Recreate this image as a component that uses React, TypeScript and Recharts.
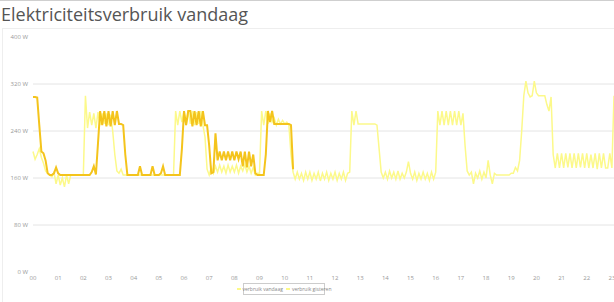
import { LineChart, Line, XAxis, YAxis, CartesianGrid } from "recharts";

// 5-minute readings, one row of 12 per hour
const vandaag = [
  298, 298, 297, 250, 205, 202, 190, 168, 165, 165, 168, 178, // 00
  168, 165, 165, 165, 165, 165, 165, 165, 165, 165, 165, 165, // 01
  165, 165, 165, 165, 170, 180, 166, 220, 274, 250, 274, 248, // 02
  274, 248, 274, 250, 274, 252, 252, 250, 200, 165, 165, 165, // 03
  165, 165, 165, 180, 165, 165, 165, 165, 165, 180, 165, 165, // 04
  165, 168, 180, 165, 165, 165, 165, 165, 165, 165, 165, 210, // 05
  274, 250, 274, 274, 248, 274, 250, 274, 248, 274, 250, 250, // 06
  215, 168, 170, 236, 190, 205, 190, 205, 190, 205, 190, 205, // 07
  190, 205, 192, 205, 180, 205, 178, 205, 180, 200, 168, 165, // 08
  165, 165, 165, 200, 274, 255, 274, 252, 252, 252, 252, 252, // 09
  252, 252, 252, 250, 175, // 10
];

const gisteren = [
  205, 192, 200, 210, 195, 185, 172, 168, 165, 162, 170, 150, // 00
  165, 148, 160, 145, 165, 150, 165, 165, 165, 165, 165, 165, // 01
  165, 300, 245, 272, 250, 270, 245, 272, 250, 270, 252, 270, // 02
  250, 268, 240, 200, 172, 168, 175, 165, 165, 165, 165, 165, // 03
  165, 165, 165, 165, 165, 165, 165, 165, 165, 165, 165, 165, // 04
  165, 165, 165, 165, 165, 165, 165, 165, 274, 250, 274, 255, // 05
  274, 250, 274, 252, 274, 250, 272, 252, 274, 250, 230, 175, // 06
  165, 178, 168, 180, 170, 182, 170, 180, 168, 182, 170, 180, // 07
  170, 182, 168, 180, 172, 183, 170, 180, 168, 178, 165, 168, // 08
  168, 274, 250, 274, 252, 270, 255, 262, 250, 260, 252, 258, // 09
  252, 255, 250, 200, 170, 158, 170, 158, 168, 156, 170, 158, // 10
  170, 156, 168, 158, 170, 155, 168, 158, 170, 156, 168, 158, // 11
  170, 156, 168, 158, 170, 156, 168, 170, 274, 250, 274, 252, // 12
  252, 252, 252, 252, 252, 252, 252, 252, 250, 210, 170, 160, // 13
  170, 158, 172, 160, 170, 158, 172, 158, 168, 160, 170, 188, // 14
  168, 158, 170, 156, 168, 158, 170, 158, 168, 156, 170, 158, // 15
  170, 274, 250, 274, 250, 274, 250, 274, 250, 274, 250, 274, // 16
  250, 270, 215, 172, 165, 170, 150, 168, 160, 172, 158, 170, // 17
  160, 190, 165, 150, 168, 165, 165, 165, 165, 165, 165, 165, // 18
  168, 168, 178, 172, 190, 240, 300, 325, 305, 298, 300, 325, // 19
  305, 300, 300, 300, 300, 285, 274, 298, 200, 177, 202, 177, // 20
  202, 177, 202, 178, 202, 177, 202, 177, 202, 178, 202, 177, // 21
  202, 177, 200, 177, 202, 175, 202, 177, 202, 177, 177, 202, // 22
  177, 300, // 23
];

const uurTicks = Array.from({ length: 24 }, (_, h) => h * 12);
const wattTicks = [0, 80, 160, 240, 320, 400];

const data = gisteren.map((g, i) => ({
  t: i,
  gisteren: g,
  vandaag: i < vandaag.length ? vandaag[i] : undefined,
}));

const DONKER = "#f4c41c";
const LICHT = "#fcf98a";

const WattTick = (props: any) => (
  <text
    x={props.x}
    y={props.y}
    textAnchor="end"
    dominantBaseline="central"
    fontSize={6}
    fill="#999"
  >
    {props.payload.value} W
  </text>
);

const UurTick = (props: any) => (
  <text
    x={props.x}
    y={props.y}
    textAnchor="middle"
    dominantBaseline="central"
    fontSize={6}
    fill="#999"
  >
    {String(props.payload.value / 12).padStart(2, "0")}
  </text>
);

export default function App() {
  return (
    <div
      style={{
        position: "absolute",
        left: 0,
        top: 0,
        width: 614,
        height: 302,
        background: "#fff",
        borderTop: "1px solid #cfcfcf",
        boxSizing: "border-box",
        overflow: "hidden",
        fontFamily: "'Open Sans', sans-serif",
      }}
    >
      <div
        style={{
          position: "absolute",
          left: 1,
          top: 1,
          fontSize: 18,
          color: "#555",
        }}
      >
        Elektriciteitsverbruik vandaag
      </div>
      <div
        style={{
          position: "absolute",
          left: 2,
          top: 27,
          right: 0,
          bottom: 0,
          borderTop: "1px solid #eeeeee",
          borderLeft: "1px solid #eeeeee",
        }}
      />
      <div style={{ position: "absolute", left: 0, top: -1 }}>
        <LineChart
          width={614}
          height={302}
          data={data}
          margin={{ top: 37, right: 0, bottom: 0, left: 0 }}
        >
          <CartesianGrid
            vertical={false}
            stroke="#e4e4e4"
            horizontalValues={[80, 160, 240, 320]}
          />
          <XAxis
            dataKey="t"
            type="number"
            domain={[0, gisteren.length - 1]}
            ticks={uurTicks}
            interval={0}
            axisLine={false}
            tickLine={false}
            tickSize={6}
            tickMargin={0}
            height={30}
            tick={<UurTick />}
          />
          <YAxis
            domain={[0, 400]}
            ticks={wattTicks}
            axisLine={false}
            tickLine={false}
            width={33}
            tickSize={5}
            tickMargin={0}
            tick={<WattTick />}
          />
          <Line
            dataKey="gisteren"
            stroke={LICHT}
            strokeWidth={1.5}
            dot={false}
            activeDot={false}
            type="linear"
            isAnimationActive={false}
          />
          <Line
            dataKey="vandaag"
            stroke={DONKER}
            strokeWidth={2}
            dot={false}
            activeDot={false}
            type="linear"
            isAnimationActive={false}
          />
        </LineChart>
      </div>
      <div
        style={{
          position: "absolute",
          left: 243,
          top: 282,
          width: 82,
          height: 12,
          border: "1px solid #cccccc",
          boxSizing: "border-box",
          display: "flex",
          alignItems: "center",
          justifyContent: "center",
          gap: 3,
          fontSize: 5,
          color: "#888",
          whiteSpace: "nowrap",
        }}
      >
        <span style={{ display: "flex", alignItems: "center", gap: 2 }}>
          <span style={{ width: 4, height: 1.5, background: LICHT }} />
          verbruik vandaag
        </span>
        <span style={{ display: "flex", alignItems: "center", gap: 2 }}>
          <span style={{ width: 4, height: 1.5, background: LICHT }} />
          verbruik gisteren
        </span>
      </div>
    </div>
  );
}
